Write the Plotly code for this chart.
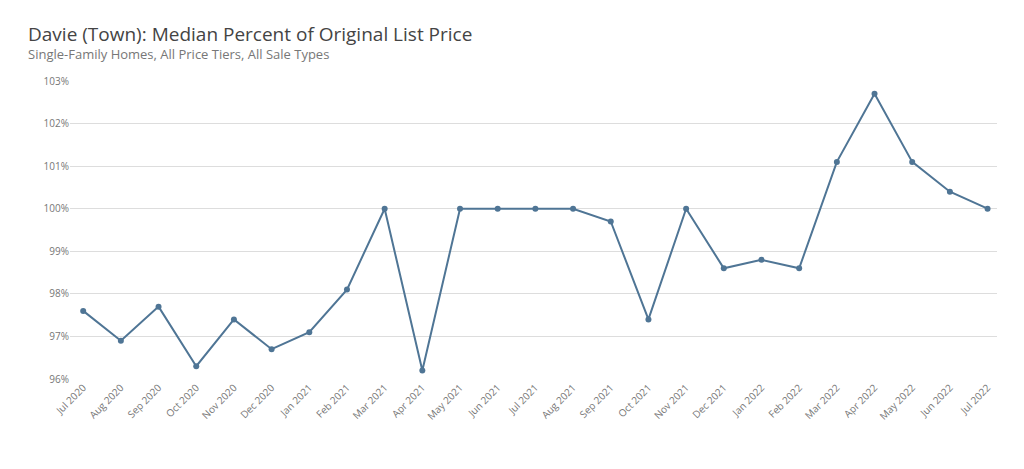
import plotly.graph_objects as go

months = ["Jul 2020", "Aug 2020", "Sep 2020", "Oct 2020", "Nov 2020", "Dec 2020",
          "Jan 2021", "Feb 2021", "Mar 2021", "Apr 2021", "May 2021", "Jun 2021",
          "Jul 2021", "Aug 2021", "Sep 2021", "Oct 2021", "Nov 2021", "Dec 2021",
          "Jan 2022", "Feb 2022", "Mar 2022", "Apr 2022", "May 2022", "Jun 2022", "Jul 2022"]
pct_of_list = [97.6, 96.9, 97.7, 96.3, 97.4, 96.7, 97.1, 98.1, 100.0, 96.2, 100.0, 100.0,
               100.0, 100.0, 99.7, 97.4, 100.0, 98.6, 98.8, 98.6, 101.1, 102.7, 101.1, 100.4, 100.0]
y_ticks = [96, 97, 98, 99, 100, 101, 102, 103]

fig = go.Figure()
fig.add_trace(go.Scatter(
    x=months, y=pct_of_list, mode="lines+markers",
    name="Median Percent of Original List Price",
    line=dict(color="#4f7595", width=2),
    marker=dict(size=6, color="#4f7595"),
))

fig.update_layout(
    width=1024, height=469,
    paper_bgcolor="white", plot_bgcolor="white",
    font=dict(family="Open Sans", color="#666666", size=10),
    margin=dict(l=62, r=35, t=73, b=98, autoexpand=False),
    xaxis=dict(tickangle=-45, showgrid=False, showline=False, ticks="",
               range=[-0.35, 24.25], tickfont=dict(size=10, color="#777")),
    yaxis=dict(range=[96, 103], tickvals=y_ticks,
               ticktext=[f"{v}%" for v in y_ticks],
               gridcolor="#dddddd", zeroline=False, ticks="",
               tickfont=dict(size=10, color="#777")),
    legend=dict(orientation="h", x=0.5, xanchor="center", y=-0.205, yanchor="middle",
                font=dict(size=9, color="#666")),
    annotations=[
        dict(text="Davie (Town): Median Percent of Original List Price",
             xref="paper", yref="paper", x=-0.047, y=1.157, xanchor="left", yanchor="middle",
             showarrow=False, font=dict(size=19, color="#444444")),
        dict(text="Single-Family Homes, All Price Tiers, All Sale Types",
             xref="paper", yref="paper", x=-0.047, y=1.092, xanchor="left", yanchor="middle",
             showarrow=False, font=dict(size=13, color="#777777")),
    ],
)

fig.write_html("out.html")
